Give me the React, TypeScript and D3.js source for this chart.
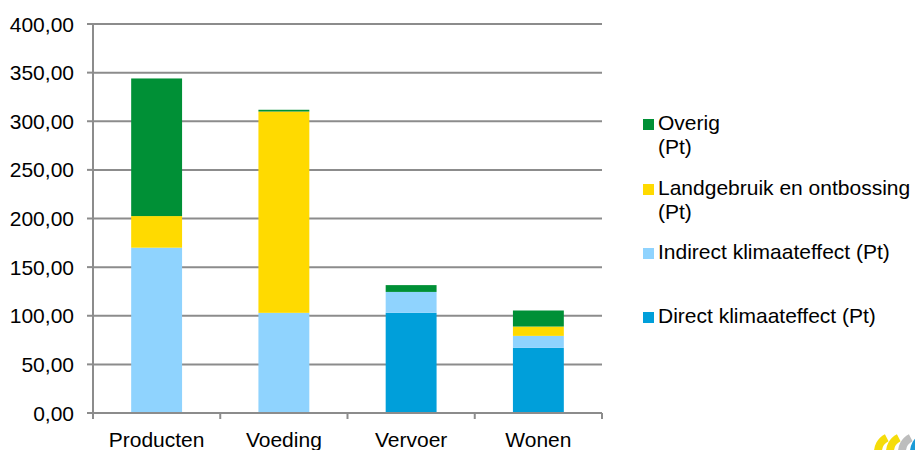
import * as d3 from 'd3'
import { useEffect, useRef } from 'react'

const categories = ['Producten', 'Voeding', 'Vervoer', 'Wonen']
const direct = [0, 0, 103, 67]
const indirect = [170, 103, 21.5, 12.3]
const landgebruik = [32.5, 207, 0, 9.6]
const overig = [141.5, 1.8, 7, 16.5]
const yTicks = [0, 50, 100, 150, 200, 250, 300, 350, 400]

const seriesNames = [
    'Direct klimaateffect (Pt)',
    'Indirect klimaateffect (Pt)',
    'Landgebruik en ontbossing (Pt)',
    'Overig (Pt)',
]
const seriesValues = [direct, indirect, landgebruik, overig]
const colors = ['#009fda', '#8fd3fe', '#ffda00', '#009036']

const width = 915
const height = 450

export default function App() {
    const svgRef = useRef<SVGSVGElement>(null)

    useEffect(() => {
        if (!svgRef.current) return
        const svg = d3.select(svgRef.current)
        svg.selectAll('*').remove()

        const left = 93
        const right = 602
        const top = 24
        const bottom = 413
        const font = '"Liberation Sans", Arial, sans-serif'
        const fontSize = '21px'

        const x = d3.scaleBand().domain(categories).range([left, right]).paddingInner(0.6).paddingOuter(0.3)
        const xOuter = d3.scaleBand().domain(categories).range([left, right])
        const y = d3.scaleLinear().domain([0, 400]).range([bottom, top])

        // gridlines
        svg.append('g')
            .selectAll('line')
            .data(yTicks.filter((t) => t > 0))
            .join('line')
            .attr('x1', left)
            .attr('x2', right)
            .attr('y1', (d) => y(d))
            .attr('y2', (d) => y(d))
            .attr('stroke', '#8c8c8c')
            .attr('stroke-width', 2)

        // stacked bars
        const rows = categories.map((c, i) => {
            const r: any = { cat: c }
            seriesNames.forEach((s, j) => (r[s] = seriesValues[j][i]))
            return r
        })
        const stack = d3.stack<any>().keys(seriesNames)(rows)
        stack.forEach((layer, j) => {
            svg.append('g')
                .selectAll('rect')
                .data(layer.filter((d) => d[1] - d[0] > 0))
                .join('rect')
                .attr('x', (d) => x(d.data.cat) as number)
                .attr('width', x.bandwidth())
                .attr('y', (d) => y(d[1]))
                .attr('height', (d) => y(d[0]) - y(d[1]))
                .attr('fill', colors[j])
        })

        // axes
        const axisColor = '#8c8c8c'
        svg.append('line')
            .attr('x1', left).attr('x2', left)
            .attr('y1', top).attr('y2', bottom + 6)
            .attr('stroke', axisColor).attr('stroke-width', 2)
        svg.append('line')
            .attr('x1', left - 6).attr('x2', right)
            .attr('y1', bottom).attr('y2', bottom)
            .attr('stroke', axisColor).attr('stroke-width', 2)

        svg.append('g')
            .selectAll('line')
            .data(yTicks)
            .join('line')
            .attr('x1', left - 6)
            .attr('x2', left)
            .attr('y1', (d) => y(d))
            .attr('y2', (d) => y(d))
            .attr('stroke', axisColor)
            .attr('stroke-width', 2)

        const xTickPos = categories.map((c) => xOuter(c) as number).concat([right])
        svg.append('g')
            .selectAll('line')
            .data(xTickPos)
            .join('line')
            .attr('x1', (d) => d)
            .attr('x2', (d) => d)
            .attr('y1', bottom)
            .attr('y2', bottom + 6)
            .attr('stroke', axisColor)
            .attr('stroke-width', 2)

        const fmt = (v: number) => v.toFixed(2).replace('.', ',')
        svg.append('g')
            .selectAll('text')
            .data(yTicks)
            .join('text')
            .attr('x', left - 19)
            .attr('y', (d) => y(d))
            .attr('dy', '0.36em')
            .attr('text-anchor', 'end')
            .style('font-family', font)
            .style('font-size', fontSize)
            .attr('fill', '#000')
            .text((d) => fmt(d))

        svg.append('g')
            .selectAll('text')
            .data(categories)
            .join('text')
            .attr('x', (d) => (xOuter(d) as number) + xOuter.bandwidth() / 2)
            .attr('y', 447)
            .attr('text-anchor', 'middle')
            .style('font-family', font)
            .style('font-size', fontSize)
            .attr('fill', '#000')
            .text((d) => d)

        // legend (top to bottom: Overig, Landgebruik, Indirect, Direct)
        const legendItems = [
            { lines: ['Overig', '(Pt)'], color: colors[3], y: 130 },
            { lines: ['Landgebruik en ontbossing', '(Pt)'], color: colors[2], y: 195 },
            { lines: ['Indirect klimaateffect (Pt)'], color: colors[1], y: 259 },
            { lines: ['Direct klimaateffect (Pt)'], color: colors[0], y: 323 },
        ]
        const legend = svg.append('g')
        legendItems.forEach((item) => {
            legend.append('rect')
                .attr('x', 643)
                .attr('y', item.y - 11)
                .attr('width', 11)
                .attr('height', 11)
                .attr('fill', item.color)
            item.lines.forEach((ln, k) => {
                legend.append('text')
                    .attr('x', 658)
                    .attr('y', item.y + k * 24)
                    .style('font-family', font)
                    .style('font-size', fontSize)
                    .attr('fill', '#000')
                    .text(ln)
            })
        })

        // partial logo bottom-right
        const arc = d3.arc<any>()
        const logoColors = ['#f5dc0a', '#f5dc0a', '#bdbdbd', '#1a9ad6']
        logoColors.forEach((c, i) => {
            svg.append('path')
                .attr('transform', `translate(${894 + i * 12}, 452)`)
                .attr('d', arc({ innerRadius: 12, outerRadius: 20, startAngle: -Math.PI * 0.92, endAngle: -Math.PI * 0.15 }) as string)
                .attr('fill', c)
        })
    }, [])

    return (
        <svg
            ref={svgRef}
            width={width}
            height={height}
            style={{ position: 'absolute', left: 0, top: 0, background: '#fff' }}
        />
    )
}
